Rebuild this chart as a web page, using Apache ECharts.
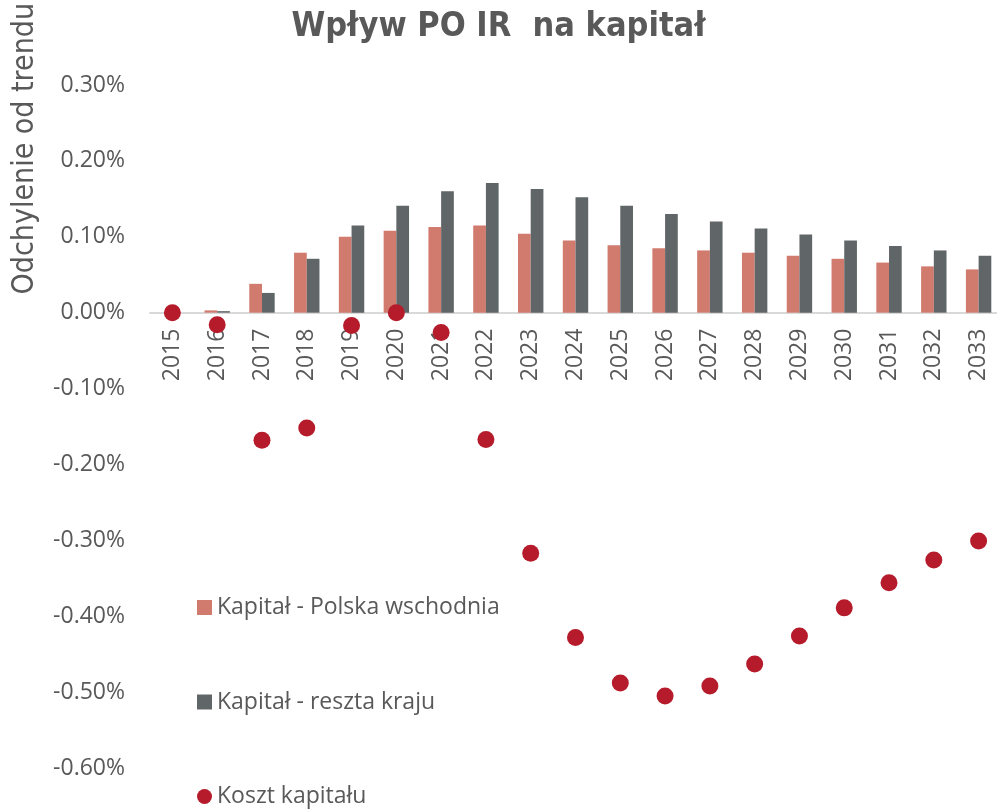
<!DOCTYPE html>
<html>
<head>
<meta charset="utf-8">
<script src="https://cdn.jsdelivr.net/npm/echarts@6/dist/echarts.min.js"></script>
<style>
  html, body { margin: 0; padding: 0; background: #fff; }
  #chart { width: 997px; height: 812px; }
</style>
</head>
<body>
<div id="chart"></div>
<script>
// lata
var years = ['2015','2016','2017','2018','2019','2020','2021','2022','2023','2024',
             '2025','2026','2027','2028','2029','2030','2031','2032','2033'];

// odchylenie od trendu, w %
var kapitalWschod = [0, 0.003, 0.038, 0.079, 0.100, 0.108, 0.113, 0.115, 0.104, 0.095,
                     0.089, 0.085, 0.082, 0.079, 0.075, 0.071, 0.066, 0.061, 0.057];
var kapitalReszta = [0, 0.002, 0.026, 0.071, 0.115, 0.141, 0.160, 0.171, 0.163, 0.152,
                     0.141, 0.130, 0.120, 0.111, 0.103, 0.095, 0.088, 0.082, 0.075];
var kosztKapitalu = [0, -0.016, -0.168, -0.152, -0.017, 0, -0.026, -0.167, -0.317, -0.428,
                     -0.488, -0.505, -0.492, -0.463, -0.426, -0.389, -0.356, -0.326, -0.301];

var txtColor = '#595959';
var fontMain = '"Open Sans", "DejaVu Sans", sans-serif';
var gridTop = 85, gridBottom = 44, yMin = -0.6, yMax = 0.3;
// przesunięcie osi X na poziom zera
var zeroOffset = -(812 - gridTop - gridBottom) * (0 - yMin) / (yMax - yMin);

var chart = echarts.init(document.getElementById('chart'));

var option = {
  animation: false,
  backgroundColor: '#fff',
  title: {
    text: 'Wpływ PO IR  na kapitał',
    left: 'center',
    top: 5,
    textStyle: {
      color: txtColor,
      fontFamily: '"DejaVu Sans Condensed", sans-serif',
      fontWeight: 'bold',
      fontSize: 34
    }
  },
  graphic: [{
    type: 'text',
    left: 10,
    top: 3,
    rotation: Math.PI / 2,
    style: {
      text: 'Odchylenie od trendu',
      fill: txtColor,
      font: '30px "DejaVu Sans Condensed", sans-serif'
    }
  }],
  legend: {
    orient: 'vertical',
    left: 197,
    top: 596,
    bottom: 0,
    padding: 0,
    itemGap: 71.5,
    itemWidth: 15,
    itemHeight: 15,
    textStyle: { color: txtColor, fontFamily: fontMain, fontSize: 23, padding: [0, 0, 0, 0] },
    data: [
      { name: 'Kapitał - Polska wschodnia', icon: 'rect' },
      { name: 'Kapitał - reszta kraju', icon: 'rect' },
      { name: 'Koszt kapitału', icon: 'circle' }
    ]
  },
  grid: { left: 150, right: -4, top: gridTop, bottom: gridBottom, outerBoundsMode: 'none', containLabel: false },
  xAxis: {
    type: 'category',
    data: years,
    position: 'bottom',
    offset: zeroOffset,
    axisLine: { onZero: false, lineStyle: { color: '#D9D9D9', width: 2 } },
    axisTick: { show: false },
    axisLabel: {
      rotate: 90,
      margin: 16,
      color: txtColor,
      fontFamily: fontMain,
      fontSize: 23
    }
  },
  yAxis: {
    type: 'value',
    min: yMin,
    max: yMax,
    interval: 0.1,
    splitLine: { show: false },
    axisLine: { show: false },
    axisLabel: {
      margin: 25,
      color: txtColor,
      fontFamily: fontMain,
      fontSize: 23,
      formatter: function (v) { return v.toFixed(2) + '%'; }
    }
  },
  series: [
    {
      name: 'Kapitał - Polska wschodnia',
      type: 'bar',
      data: kapitalWschod,
      barWidth: 12.7,
      barGap: '0%',
      itemStyle: { color: '#D17A6E' }
    },
    {
      name: 'Kapitał - reszta kraju',
      type: 'bar',
      data: kapitalReszta,
      barWidth: 12.7,
      itemStyle: { color: '#606568' }
    },
    {
      name: 'Koszt kapitału',
      type: 'scatter',
      data: kosztKapitalu,
      symbolSize: 17,
      z: 5,
      itemStyle: { color: '#B51B2A', opacity: 1 }
    }
  ]
};

chart.setOption(option);
</script>
</body>
</html>
